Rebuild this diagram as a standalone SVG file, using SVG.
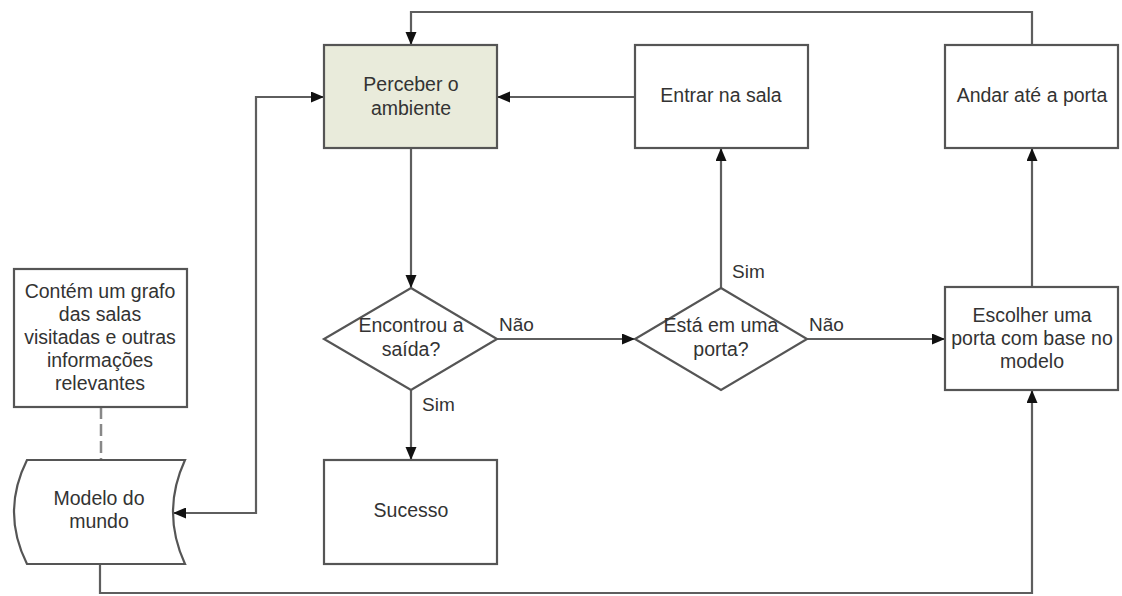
<svg xmlns="http://www.w3.org/2000/svg" width="1122" height="596" viewBox="0 0 1122 596">
  <style>
    .box { fill: #ffffff; stroke: #555555; stroke-width: 2.2; }
    .hl { fill: #e9ebdb; }
    .lbl { font-family: "Liberation Sans", Arial, sans-serif; font-size: 19.5px; fill: #333333; text-anchor: middle; }
    .edge-lbl { font-family: "Liberation Sans", Arial, sans-serif; font-size: 19px; fill: #333333; }
    .wire { fill: none; stroke: #5e5e5e; stroke-width: 2.2; }
    .dash { fill: none; stroke: #888888; stroke-width: 2.5; stroke-dasharray: 12 5; }
  </style>
  <defs>
    <marker id="arrow" markerUnits="userSpaceOnUse" markerWidth="14" markerHeight="12" refX="13" refY="5.5" orient="auto">
      <path d="M0,0 L13,5.5 L0,11 Z" fill="#111111"/>
    </marker>
    <marker id="arrow-start" markerUnits="userSpaceOnUse" markerWidth="14" markerHeight="12" refX="0" refY="5.5" orient="auto">
      <path d="M13,0 L0,5.5 L13,11 Z" fill="#111111"/>
    </marker>
  </defs>

  <rect width="1122" height="596" fill="#ffffff"/>

  <!-- connectors -->
  <g id="connectors">
    <path class="wire" d="M1032,45 V12 H411 V45" marker-end="url(#arrow)"/>
    <path class="wire" d="M635,97 H497" marker-end="url(#arrow)"/>
    <path class="wire" d="M411,148 V288" marker-end="url(#arrow)"/>
    <path class="wire" d="M497,339 H635" marker-end="url(#arrow)"/>
    <path class="wire" d="M411,390 V460" marker-end="url(#arrow)"/>
    <path class="wire" d="M721,288 V148" marker-end="url(#arrow)"/>
    <path class="wire" d="M807,339 H945" marker-end="url(#arrow)"/>
    <path class="wire" d="M1032,287 V148" marker-end="url(#arrow)"/>
    <path class="wire" d="M173,513 H256 V97 H324" marker-start="url(#arrow-start)" marker-end="url(#arrow)"/>
    <path class="wire" d="M100,564 V593 H1032 V390" marker-end="url(#arrow)"/>
    <path class="dash" d="M101,407 V460"/>
    <text class="edge-lbl" x="499" y="331">Não</text>
    <text class="edge-lbl" x="422" y="411">Sim</text>
    <text class="edge-lbl" x="732" y="278">Sim</text>
    <text class="edge-lbl" x="809" y="331">Não</text>
  </g>

  <g id="perceber">
    <rect class="box hl" x="324" y="45" width="173" height="103"/>
    <text class="lbl" x="411" y="91">Perceber o</text>
    <text class="lbl" x="411" y="115">ambiente</text>
  </g>

  <g id="entrar">
    <rect class="box" x="635" y="45" width="173" height="103"/>
    <text class="lbl" x="721" y="102">Entrar na sala</text>
  </g>

  <g id="andar">
    <rect class="box" x="945" y="45" width="173" height="103"/>
    <text class="lbl" x="1032" y="102">Andar até a porta</text>
  </g>

  <g id="encontrou">
    <polygon class="box" points="411,288 497,339 411,390 324,339"/>
    <text class="lbl" x="411" y="332">Encontrou a</text>
    <text class="lbl" x="411" y="356">saída?</text>
  </g>

  <g id="esta-porta">
    <polygon class="box" points="721,288 807,339 721,390 635,339"/>
    <text class="lbl" x="721" y="332">Está em uma</text>
    <text class="lbl" x="721" y="356">porta?</text>
  </g>

  <g id="escolher">
    <rect class="box" x="945" y="287" width="173" height="103"/>
    <text class="lbl" x="1032" y="322">Escolher uma</text>
    <text class="lbl" x="1032" y="345">porta com base no</text>
    <text class="lbl" x="1032" y="368">modelo</text>
  </g>

  <g id="sucesso">
    <rect class="box" x="324" y="460" width="173" height="104"/>
    <text class="lbl" x="411" y="517">Sucesso</text>
  </g>

  <g id="nota">
    <rect class="box" x="14" y="269" width="173" height="138"/>
    <text class="lbl" x="100" y="298">Contém um grafo</text>
    <text class="lbl" x="100" y="321">das salas</text>
    <text class="lbl" x="100" y="344">visitadas e outras</text>
    <text class="lbl" x="100" y="367">informações</text>
    <text class="lbl" x="100" y="390">relevantes</text>
  </g>

  <g id="modelo">
    <path class="box" d="M27,460 L185,460 Q161,512 185,564 L27,564 Q1,512 27,460 Z"/>
    <text class="lbl" x="99" y="505">Modelo do</text>
    <text class="lbl" x="99" y="528">mundo</text>
  </g>
</svg>
